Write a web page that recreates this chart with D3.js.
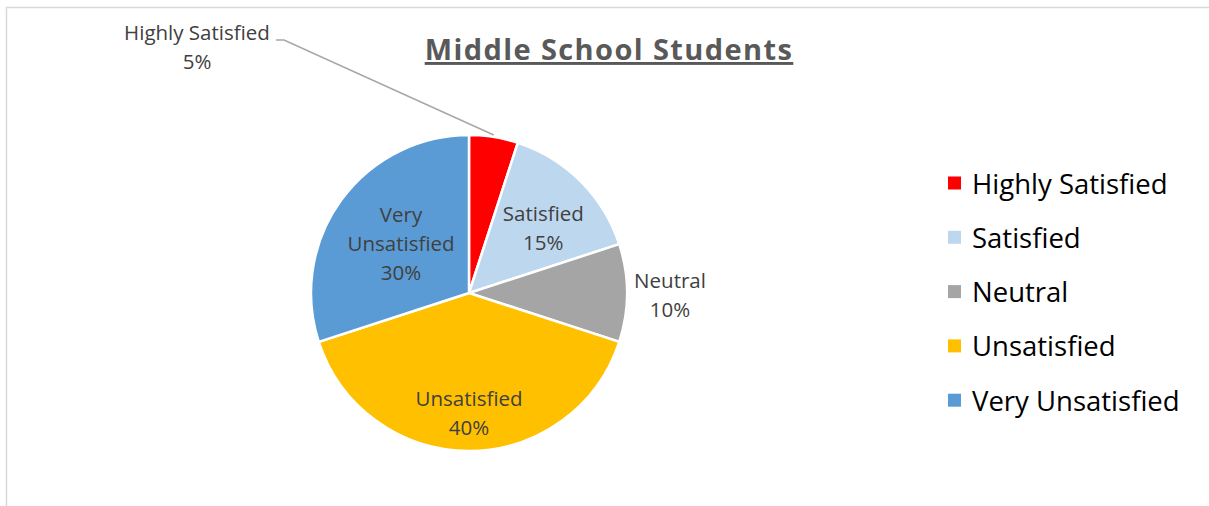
<!doctype html>
<html lang="en">
<head>
  <meta charset="utf-8">
  <title>Middle School Students</title>
  <style>
    body { margin: 0; background: #fff; }
    svg text { font-family: "Open Sans", Lato, sans-serif; }
    .title { font-weight: bold; fill: #595959; text-decoration: underline; letter-spacing: 1.4px; }
    .label { fill: #404040; }
    .legend text { fill: #000; }
  </style>
</head>
<body>
<svg width="1209" height="506"></svg>
<script src="https://d3js.org/d3.v7.min.js"></script>
<script>
  // data
  var categories = ["Highly Satisfied", "Satisfied", "Neutral", "Unsatisfied", "Very Unsatisfied"];
  var values = [5, 15, 10, 40, 30];
  var colors = ["#ff0000", "#bdd7ee", "#a5a5a5", "#ffc000", "#5b9bd5"];

  var svg = d3.select("svg");

  // chart frame (only top and left edges are visible)
  svg.append("rect")
    .attr("x", 6.5).attr("y", 7.5)
    .attr("width", 1300).attr("height", 600)
    .attr("fill", "none")
    .attr("stroke", "#d9d9d9")
    .attr("stroke-width", 1.5);

  svg.append("text")
    .attr("class", "title")
    .attr("x", 609).attr("y", 60)
    .attr("text-anchor", "middle")
    .style("font-size", "29px")
    .text("Middle School Students");

  var cx = 469, cy = 293, r = 158;
  var data = categories.map((c, i) => ({ name: c, value: values[i], color: colors[i] }));
  var total = d3.sum(values);

  var pie = d3.pie().sort(null).value((d) => d.value);
  var arc = d3.arc().innerRadius(0).outerRadius(r);
  var arcs = pie(data);

  var g = svg.append("g").attr("transform", `translate(${cx},${cy})`);

  g.selectAll("path")
    .data(arcs)
    .enter().append("path")
    .attr("d", arc)
    .attr("fill", (d) => d.data.color)
    .attr("stroke", "#fff")
    .attr("stroke-width", 2.5);

  // label placement: radius along the slice's mid angle, plus a small nudge
  var labelPos = {
    "Highly Satisfied": { lines: ["Highly Satisfied"], at: [197, 47] },
    "Satisfied": { r: 98, dx: 5, dy: 5, lines: ["Satisfied"] },
    "Neutral": { r: 201, dx: 0, dy: 2, lines: ["Neutral"] },
    "Unsatisfied": { r: 120, dx: 0, dy: 0, lines: ["Unsatisfied"] },
    "Very Unsatisfied": { r: 84, dx: 0, dy: 0, lines: ["Very", "Unsatisfied"] }
  };

  var lineH = 29;
  arcs.forEach(function (d) {
    var p = labelPos[d.data.name];
    var pct = Math.round(d.data.value / total * 100) + "%";
    var lines = p.lines.concat([pct]);
    var a = (d.startAngle + d.endAngle) / 2;
    var x, y;
    if (p.at) {
      x = p.at[0] - cx; y = p.at[1] - cy;
    } else {
      x = Math.sin(a) * p.r + p.dx;
      y = -Math.cos(a) * p.r + p.dy;
    }
    var t = g.append("text")
      .attr("class", "label")
      .attr("text-anchor", "middle")
      .style("font-size", "20.5px");
    lines.forEach(function (s, i) {
      t.append("tspan")
        .attr("x", x)
        .attr("y", y + (i - (lines.length - 1) / 2) * lineH + 7)
        .text(s);
    });
  });

  // leader line for the small slice
  var hs = arcs[0];
  var ha = (hs.startAngle + hs.endAngle) / 2;
  var edge = [Math.sin(ha) * r, -Math.cos(ha) * r];
  g.append("polyline")
    .attr("points", [[276 - cx, 40 - cy], [284 - cx, 40 - cy], [edge[0], edge[1] - 2]].map((p) => p.join(",")).join(" "))
    .attr("fill", "none")
    .attr("stroke", "#a6a6a6")
    .attr("stroke-width", 1.5);

  // legend
  var legend = svg.append("g").attr("class", "legend")
    .selectAll("g")
    .data(data)
    .enter().append("g")
    .attr("transform", (d, i) => `translate(948,${183.5 + i * 54.3})`);

  legend.append("rect")
    .attr("x", 0).attr("y", -7)
    .attr("width", 13).attr("height", 13)
    .attr("fill", (d) => d.color);

  legend.append("text")
    .attr("x", 24).attr("y", 10)
    .style("font-size", "27.5px")
    .text((d) => d.name);
</script>
</body>
</html>
